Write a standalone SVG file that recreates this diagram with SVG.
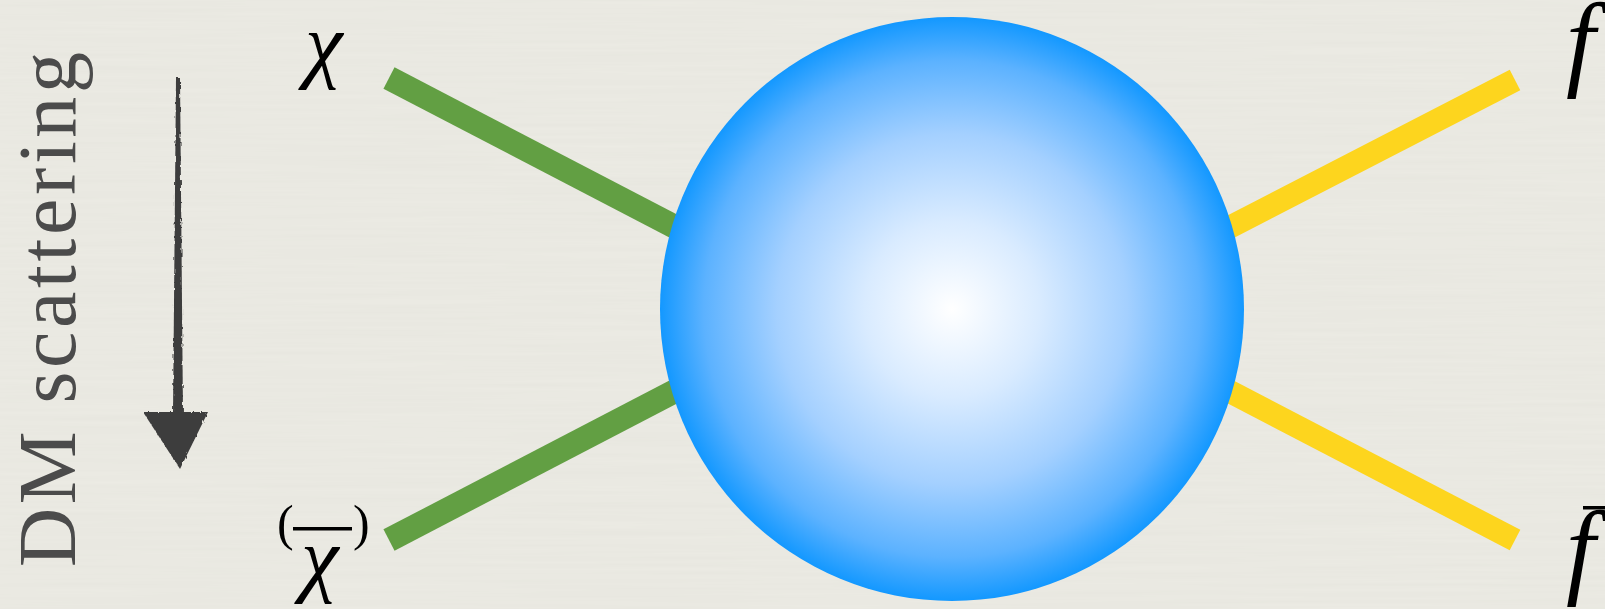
<svg xmlns="http://www.w3.org/2000/svg" width="1605" height="609" viewBox="0 0 1605 609">
<style>
.math{font-family:"Liberation Serif","DejaVu Serif",serif;font-style:italic;fill:#000}
.up{font-family:"Liberation Serif","DejaVu Serif",serif;fill:#000}
.green{stroke:#629f43;stroke-width:24;fill:none}
.yellow{stroke:#fdd51e;stroke-width:23;fill:none}
.ink{fill:#3e3e3e}
</style>
<defs>
<radialGradient id="blobGrad" cx="952" cy="309" r="292" gradientUnits="userSpaceOnUse">
<stop offset="0" stop-color="#ffffff"/>
<stop offset="0.3" stop-color="#d9ebff"/>
<stop offset="0.6" stop-color="#a4d0ff"/>
<stop offset="0.85" stop-color="#5cb2ff"/>
<stop offset="1" stop-color="#1398ff"/>
</radialGradient>
<filter id="paper" x="0" y="0" width="100%" height="100%">
<feTurbulence type="fractalNoise" baseFrequency="0.004 0.25" numOctaves="2" seed="3" result="n"/>
<feColorMatrix in="n" type="matrix" values="0 0 0 0 0.55  0 0 0 0 0.55  0 0 0 0 0.5  0 0 0 0.12 0"/>
</filter>
<filter id="rough" x="-20%" y="-5%" width="140%" height="110%">
<feTurbulence type="fractalNoise" baseFrequency="0.6 0.15" numOctaves="2" seed="7" result="t"/>
<feDisplacementMap in="SourceGraphic" in2="t" scale="3"/>
</filter>
</defs>
<rect width="1605" height="609" fill="#ecebe4"/>
<rect width="1605" height="609" filter="url(#paper)"/>

<g id="connectors">
<line class="green" x1="389" y1="78" x2="800" y2="292"/>
<line class="green" x1="389" y1="540" x2="800" y2="326"/>
<line class="yellow" x1="1515" y1="80" x2="1104" y2="292"/>
<line class="yellow" x1="1515" y1="540" x2="1104" y2="326"/>
</g>

<g id="blob">
<circle cx="952" cy="309" r="292" fill="url(#blobGrad)"/>
</g>

<g id="label-chi">
<text class="math" x="305" y="72" font-size="85">χ</text>
</g>
<g id="label-chibar">
<text class="up" x="277" y="540" font-size="50">(</text>
<text class="up" x="353" y="540" font-size="50">)</text>
<rect x="293" y="527" width="59" height="3.5" fill="#000"/>
<text class="math" x="301" y="586" font-size="85">χ</text>
</g>
<g id="label-f">
<text class="math" x="1566" y="76" font-size="105">f</text>
</g>
<g id="label-fbar">
<rect x="1583" y="506" width="30" height="3.5" fill="#000"/>
<text class="math" x="1566" y="584" font-size="105">f</text>
</g>

<g id="dm-scattering">
<text transform="translate(75,567) rotate(-90)" font-family="Liberation Serif, DejaVu Serif, serif" font-size="82" fill="#4b4b4b" textLength="515" lengthAdjust="spacing">DM scattering</text>
<g filter="url(#rough)">
<polygon class="ink" points="176,78 180,78 183,414 173,414"/>
<polygon class="ink" points="143,412 208,412 180,469"/>
</g>
</g>
</svg>
